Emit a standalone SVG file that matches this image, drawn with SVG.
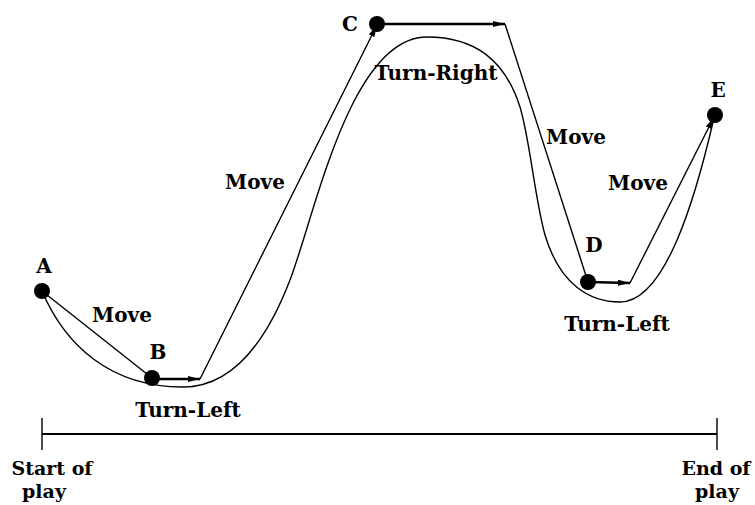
<svg xmlns="http://www.w3.org/2000/svg" width="755" height="505" viewBox="0 0 755 505">
<style>
.lbl{font-family:"DejaVu Serif","Liberation Serif",serif;font-weight:bold;font-size:20px;fill:#000}
.foot{font-size:19px}
.ln{stroke:#000;stroke-width:1.4;fill:none}
.thick{stroke:#000;stroke-width:2.4;fill:none}
.dot{fill:#000}
</style>
<defs>
<marker id="ah" viewBox="0 0 12 6" refX="12" refY="3" markerWidth="12" markerHeight="6" markerUnits="userSpaceOnUse" orient="auto">
<path d="M0,0 L12,3 L0,6 Z" fill="#000"/>
</marker>
</defs>
<rect width="755" height="505" fill="#fff"/>
<g id="connectors">
<path id="curve" class="ln" d="M42,291 C65,345 110,387 183,387 C230,387 265,345 290,280 C315,215 350,37 427,37 C475,37 505,60 520,107 C530,140 535,200 545,235 C560,285 590,302 620,302 C665,302 695,200 714,118"/>
<line class="ln" x1="42" y1="291" x2="152" y2="378"/>
<line class="thick" x1="152" y1="379" x2="200" y2="379" marker-end="url(#ah)"/>
<line class="ln" x1="200" y1="379" x2="377" y2="25" marker-end="url(#ah)"/>
<line class="thick" x1="377" y1="24" x2="505" y2="24" marker-end="url(#ah)"/>
<line class="ln" x1="505" y1="24" x2="588" y2="282"/>
<line class="thick" x1="588" y1="282" x2="630" y2="283" marker-end="url(#ah)"/>
<line class="ln" x1="630" y1="283" x2="714" y2="117" marker-end="url(#ah)"/>
<line class="ln" x1="42" y1="434" x2="717" y2="434" style="stroke-width:1.8"/>
<line class="ln" x1="42" y1="418" x2="42" y2="450"/>
<line class="ln" x1="717" y1="418" x2="717" y2="450"/>
</g>
<g id="A"><circle class="dot" cx="42" cy="291" r="8"/><text class="lbl" x="44" y="273" text-anchor="middle">A</text></g>
<g id="B"><circle class="dot" cx="152" cy="378" r="8"/><text class="lbl" x="158" y="359" text-anchor="middle">B</text></g>
<g id="C"><circle class="dot" cx="377" cy="24" r="8"/><text class="lbl" x="350" y="31" text-anchor="middle">C</text></g>
<g id="D"><circle class="dot" cx="588" cy="282" r="8"/><text class="lbl" x="594" y="252" text-anchor="middle">D</text></g>
<g id="E"><circle class="dot" cx="715" cy="115" r="8"/><text class="lbl" x="718" y="97" text-anchor="middle">E</text></g>
<g id="labels">
<text class="lbl" x="122" y="322" text-anchor="middle">Move</text>
<text class="lbl" x="188" y="417" text-anchor="middle">Turn-Left</text>
<text class="lbl" x="255" y="189" text-anchor="middle">Move</text>
<text class="lbl" x="436" y="80" text-anchor="middle">Turn-Right</text>
<text class="lbl" x="576" y="144" text-anchor="middle">Move</text>
<text class="lbl" x="638" y="190" text-anchor="middle">Move</text>
<text class="lbl" x="617" y="331" text-anchor="middle">Turn-Left</text>
<text class="lbl foot" x="52" y="475" text-anchor="middle">Start of</text>
<text class="lbl foot" x="44" y="498" text-anchor="middle">play</text>
<text class="lbl foot" x="716" y="475" text-anchor="middle">End of</text>
<text class="lbl foot" x="717" y="498" text-anchor="middle">play</text>
</g>
</svg>
